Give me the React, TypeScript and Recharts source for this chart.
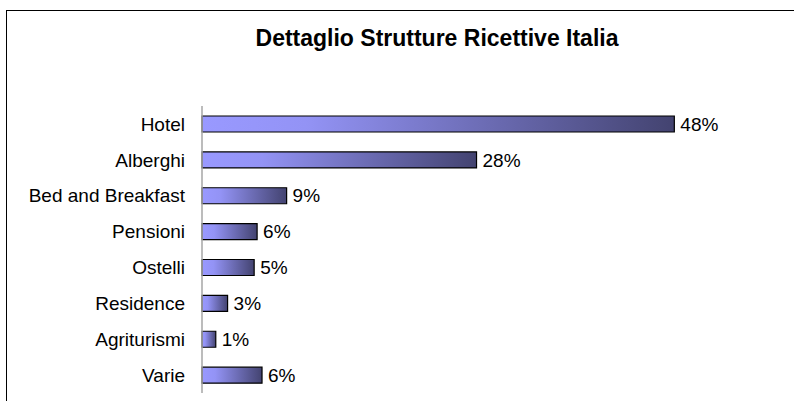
import { BarChart, Bar, XAxis, YAxis, LabelList } from 'recharts';

const categories = [
  'Hotel',
  'Alberghi',
  'Bed and Breakfast',
  'Pensioni',
  'Ostelli',
  'Residence',
  'Agriturismi',
  'Varie',
];
const shares = [48.0, 27.9, 8.6, 5.6, 5.3, 2.6, 1.4, 6.1];

const data = categories.map((name, i) => ({ name, value: shares[i] }));

const FONT = '"Liberation Sans", Arial, sans-serif';

export default function App() {
  return (
    <div
      style={{
        position: 'absolute',
        left: 0,
        top: 0,
        width: 794,
        height: 401,
        overflow: 'hidden',
        background: '#fff',
        fontFamily: FONT,
      }}
    >
      <div
        style={{
          position: 'absolute',
          left: 6,
          top: 10,
          width: 820,
          height: 420,
          border: '1px solid #000',
        }}
      />
      <div
        style={{
          position: 'absolute',
          left: 0,
          top: 25,
          width: 874,
          textAlign: 'center',
          fontSize: 23,
          fontWeight: 'bold',
          color: '#000',
        }}
      >
        Dettaglio Strutture Ricettive Italia
      </div>
      <div style={{ position: 'absolute', left: 0, top: 0 }}>
        <BarChart
          layout="vertical"
          width={794}
          height={401}
          data={data}
          margin={{ top: 106, right: 100, bottom: 8, left: 0 }}
          barSize={16}
        >
          <defs>
            <linearGradient id="barFill" x1="0" y1="0" x2="1" y2="0">
              <stop offset="0%" stopColor="#9999ff" />
              <stop offset="22%" stopColor="#9393f5" />
              <stop offset="100%" stopColor="#434370" />
            </linearGradient>
          </defs>
          <XAxis type="number" domain={[0, 50]} hide />
          <YAxis
            type="category"
            dataKey="name"
            width={202}
            axisLine={{ stroke: '#a6a6a6', strokeWidth: 1.5 }}
            tickLine={false}
            tickSize={0}
            tickMargin={17}
            tick={{ fill: '#000', fontSize: 19, fontFamily: FONT }}
          />
          <Bar
            dataKey="value"
            fill="url(#barFill)"
            stroke="#000"
            strokeWidth={1.2}
            isAnimationActive={false}
          >
            <LabelList
              dataKey="value"
              position="right"
              offset={6}
              formatter={(v: number) => `${Math.round(v)}%`}
              style={{ fill: '#000', fontSize: 19, fontFamily: FONT }}
            />
          </Bar>
        </BarChart>
      </div>
    </div>
  );
}
